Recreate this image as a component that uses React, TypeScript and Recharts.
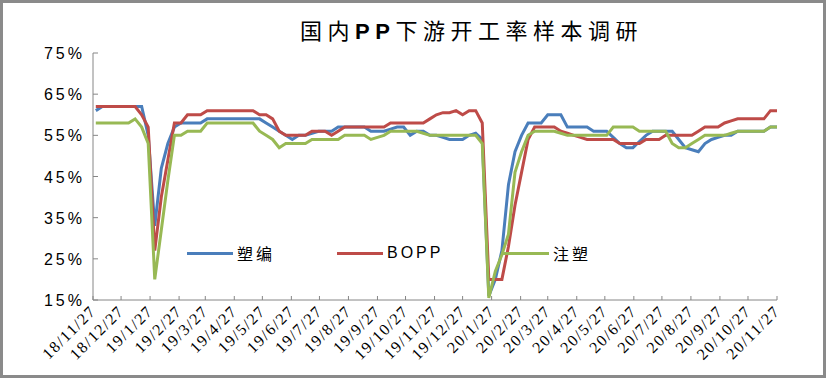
import React from 'react';
import { LineChart, Line, XAxis, YAxis } from 'recharts';

// 国内PP下游开工率样本调研, weekly samples (%)
const START = Date.UTC(2018, 10, 27);
const DAY = 86400000;

// sample dates as day offsets from 2018-11-27 (one per week)
const sampleDays = Array.from({ length: 105 }, (_, i) => 3 + 7 * i);

const suBian = [
  61, 62, 62, 62, 62, 62, 62, 62, 55, 33,
  47, 53, 57, 58, 58, 58, 58, 59, 59, 59,
  59, 59, 59, 59, 59, 59, 58, 57, 56, 55,
  54, 55, 55, 55.5, 56, 56, 56, 57, 57, 57,
  57, 57, 56, 56, 56, 56.5, 57, 57, 55, 56,
  56, 55, 55, 54.5, 54, 54, 54, 55, 55.5, 54,
  16, 20, 27, 43, 51, 55, 58, 58, 58, 60,
  60, 60, 57, 57, 57, 57, 56, 56, 56, 54.5,
  53, 52, 52, 53.5, 55, 56, 56, 56, 56, 54,
  52, 51.5, 51, 53, 54, 54.5, 55, 55, 56, 56,
  56, 56, 56, 57, 57,
];

const bopp = [
  62, 62, 62, 62, 62, 62, 62, 60, 57, 27,
  40, 49, 58, 58, 60, 60, 60, 61, 61, 61,
  61, 61, 61, 61, 61, 60, 60, 59, 56, 55,
  55, 55, 55, 56, 56, 56, 55, 56, 57, 57,
  57, 57, 57, 57, 57, 58, 58, 58, 58, 58,
  58, 59, 60, 60.5, 60.5, 61, 60, 61, 61, 58,
  20, 20, 20, 28, 38, 46, 54, 57, 57, 57,
  57, 56, 55.5, 55, 54.5, 54, 54, 54, 54, 54,
  53, 53, 53, 53, 54, 54, 54, 55, 55, 55,
  55, 55, 56, 57, 57, 57, 58, 58.5, 59, 59,
  59, 59, 59, 61, 61,
];

const zhuSu = [
  58, 58, 58, 58, 58, 58, 59, 57, 53, 20,
  32, 44, 55, 55, 56, 56, 56, 58, 58, 58,
  58, 58, 58, 58, 58, 56, 55, 54, 52, 53,
  53, 53, 53, 54, 54, 54, 54, 54, 55, 55,
  55, 55, 54, 54.5, 55, 56, 56, 56, 56, 56,
  55.5, 55, 55, 55, 55, 55, 55, 55, 55, 53,
  15.5, 22, 26, 31, 46, 51, 55, 56, 56, 56,
  56, 55.5, 55, 55, 55, 55, 55, 55, 55, 57,
  57, 57, 57, 56, 56, 56, 56, 56, 53, 52,
  52, 53, 54, 55, 55, 55, 55, 55.5, 56, 56,
  56, 56, 56, 57, 57,
];

const yTicks = [15, 25, 35, 45, 55, 65, 75];

// month ticks, 18/11/27 .. 20/11/27
const monthTicks: number[] = [];
for (let m = 0; m <= 24; m++) {
  monthTicks.push((Date.UTC(2018, 10 + m, 27) - START) / DAY);
}

const fmtDate = (d: number) => {
  const dt = new Date(START + d * DAY);
  return `${String(dt.getUTCFullYear()).slice(2)}/${dt.getUTCMonth() + 1}/${dt.getUTCDate()}`;
};

const rows = sampleDays.map((day, i) => ({
  day,
  suBian: suBian[i],
  bopp: bopp[i],
  zhuSu: zhuSu[i],
}));

const BLUE = '#4A7EBB';
const RED = '#BE4B48';
const GREEN = '#98B954';
const AXIS = '#868686';

const AXIS_X = 93;
const AXIS_Y = 300;

const YTick = (props: any) => {
  const { y, payload } = props;
  return (
    <g>
      <line x1={AXIS_X} x2={AXIS_X + 5} y1={y} y2={y} stroke={AXIS} />
      <text
        x={85}
        y={y}
        dy={6}
        textAnchor="end"
        fontFamily="'Liberation Sans', Arial, sans-serif"
        fontSize={16}
        letterSpacing={3}
        fill="#000"
      >
        {payload.value}%
      </text>
    </g>
  );
};

const XTick = (props: any) => {
  const { x, payload } = props;
  return (
    <g>
      <line x1={x} x2={x} y1={AXIS_Y} y2={AXIS_Y - 4} stroke={AXIS} />
      <text
        transform={`translate(${x + 4},${AXIS_Y + 12}) rotate(-45)`}
        textAnchor="end"
        fontFamily="'Liberation Serif', 'Times New Roman', serif"
        fontSize={16}
        letterSpacing={1.5}
        fill="#000"
      >
        {fmtDate(payload.value)}
      </text>
    </g>
  );
};

const legendItems = [
  { name: '塑编', color: BLUE, left: 187 },
  { name: 'BOPP', color: RED, left: 337 },
  { name: '注塑', color: GREEN, left: 503 },
];

export default function App() {
  return (
    <div style={{ position: 'absolute', left: 0, top: 0, width: 826, height: 378, background: '#fff' }}>
      <LineChart
        width={826}
        height={378}
        data={rows}
        margin={{ top: 53, right: 49, bottom: 0, left: 0 }}
      >
        <XAxis
          dataKey="day"
          type="number"
          domain={[0, 731]}
          ticks={monthTicks}
          interval={0}
          height={78}
          stroke={AXIS}
          tickLine={false}
          tick={<XTick />}
        />
        <YAxis
          domain={[15, 75]}
          ticks={yTicks}
          interval={0}
          width={93}
          stroke={AXIS}
          tickLine={false}
          tick={<YTick />}
        />
        <Line dataKey="suBian" stroke={BLUE} strokeWidth={3} dot={false} isAnimationActive={false} />
        <Line dataKey="bopp" stroke={RED} strokeWidth={3} dot={false} isAnimationActive={false} />
        <Line dataKey="zhuSu" stroke={GREEN} strokeWidth={3} dot={false} isAnimationActive={false} />
      </LineChart>

      <div
        style={{
          position: 'absolute',
          left: 300,
          top: 13,
          whiteSpace: 'nowrap',
          fontFamily: '"Noto Sans CJK SC", sans-serif',
          fontSize: 22,
          letterSpacing: 5.5,
          color: '#000',
        }}
      >
        国内<b style={{ fontFamily: '"Liberation Sans", Arial, sans-serif' }}>PP</b>下游开工率样本调研
      </div>

      {legendItems.map((it) => (
        <div
          key={it.name}
          style={{
            position: 'absolute',
            left: it.left,
            top: 242,
            height: 22,
            display: 'flex',
            alignItems: 'center',
            whiteSpace: 'nowrap',
          }}
        >
          <span style={{ display: 'inline-block', width: 46, height: 3, background: it.color }} />
          <span
            style={{
              marginLeft: 4,
              fontFamily: '"Liberation Sans", "Noto Sans CJK SC", sans-serif',
              fontSize: 16,
              letterSpacing: 3,
              color: '#000',
            }}
          >
            {it.name}
          </span>
        </div>
      ))}

      <div
        style={{
          position: 'absolute',
          left: 0,
          top: 0,
          width: 826,
          height: 378,
          boxSizing: 'border-box',
          border: '3px solid #8a8a8a',
          pointerEvents: 'none',
        }}
      />
    </div>
  );
}
